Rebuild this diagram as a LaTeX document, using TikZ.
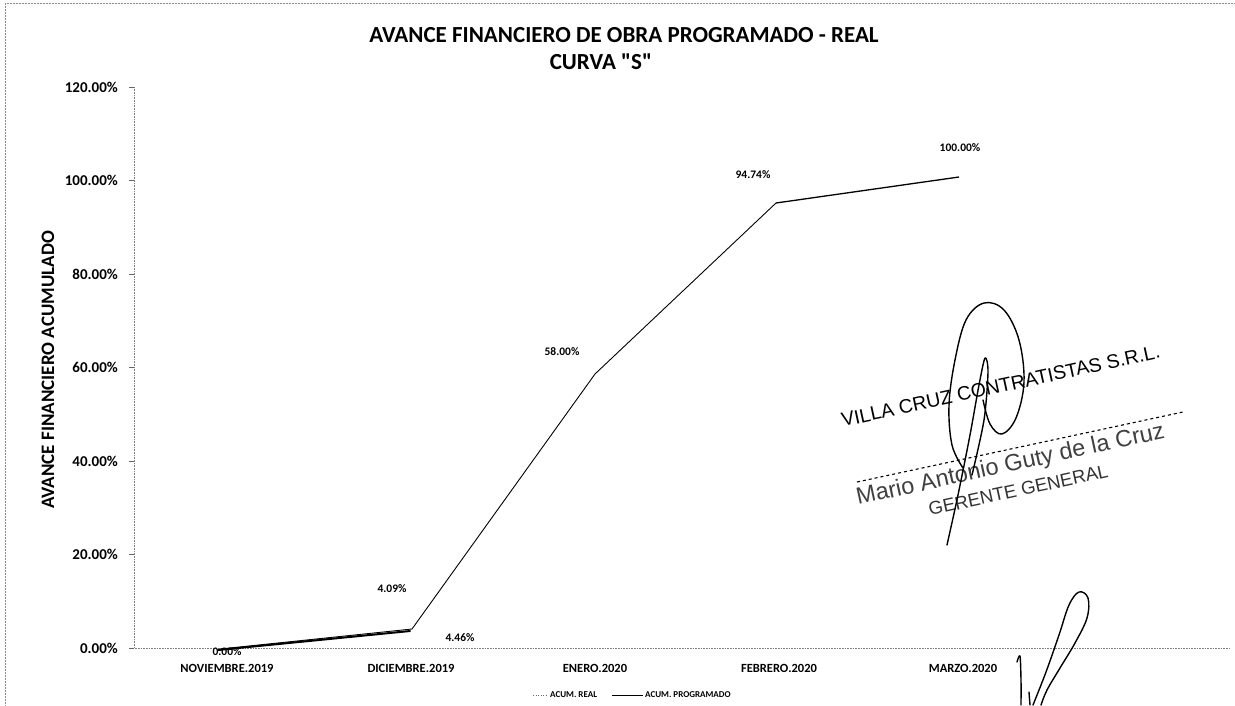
\documentclass[tikz,border=0pt]{standalone}
\usepackage{fontspec}
\setmainfont{Carlito}
\newfontfamily\plainfont{Carlito}
\newfontfamily\stampfont{Liberation Sans}
\begin{document}
\begin{tikzpicture}[x=1pt,y=-1pt,
  frameline/.style={black!45, densely dotted, line width=0.5pt},
  axisline/.style={black!50, densely dotted, line width=0.6pt},
  ticklab/.style={font=\fontsize{15}{15}\selectfont\bfseries, anchor=east, inner sep=0pt},
  catlab/.style={font=\fontsize{12.5}{12.5}\selectfont\bfseries, inner sep=0pt},
  datalab/.style={font=\fontsize{11.5}{11.5}\selectfont\bfseries, inner sep=0pt},
  titlelab/.style={font=\plainfont\fontsize{23}{23}\selectfont\bfseries, inner sep=0pt},
  leglab/.style={font=\fontsize{9}{9}\selectfont\bfseries, anchor=west, inner sep=0pt},
  progline/.style={black, line width=0.9pt, line join=round},
  realline/.style={black, line width=2pt, line cap=round},
  stamptext/.style={inner sep=0pt, anchor=base west, rotate=12.3},
  signstroke/.style={black, line width=1.4pt, line cap=round, line join=round}
]
\useasboundingbox (0,0) rectangle (1235,705);
% frame of the scanned chart
\coordinate (ftl) at (5,3);
\coordinate (fbl) at (5,705);
\coordinate (ftr) at (1235,3);
\draw[frameline] (fbl) -- (ftl) -- (ftr);

% titles
\node[titlelab] (title1) at (624,35) {AVANCE FINANCIERO DE OBRA PROGRAMADO - REAL};
\node[titlelab] (title2) at (601,62) {CURVA "S"};

% axes
\coordinate (ytop) at (134,87);
\coordinate (orig) at (134,648);
\coordinate (xend) at (1230,648);
\draw[axisline] (ytop) -- (orig) -- (xend);
\foreach \k/\lab in {0/0.00\%,1/20.00\%,2/40.00\%,3/60.00\%,4/80.00\%,5/100.00\%,6/120.00\%}{
  \coordinate (tk\k) at (134,648-93.5*\k);
  \coordinate (tm\k) at (129,648-93.5*\k);
  \draw[black!60, line width=0.6pt] (tm\k) -- (tk\k);
  \node[ticklab] (tl\k) at (118,648-93.5*\k) {\lab};
}
\node[font=\fontsize{19}{19}\selectfont\bfseries, rotate=90, inner sep=0pt] (ytitle) at (48,370) {AVANCE FINANCIERO ACUMULADO};

% category labels
\node[catlab] (c1) at (227,668) {NOVIEMBRE.2019};
\node[catlab] (c2) at (411,668) {DICIEMBRE.2019};
\node[catlab] (c3) at (595,668) {ENERO.2020};
\node[catlab] (c4) at (779,668) {FEBRERO.2020};
\node[catlab] (c5) at (963,668) {MARZO.2020};

% data points
\coordinate (p1) at (220,649);
\coordinate (p2) at (412,629);
\coordinate (p3) at (595,374);
\coordinate (p4) at (776,203);
\coordinate (p5) at (959,177);
\coordinate (r1) at (218,650);
\coordinate (r2) at (410,631);
\draw[realline] (r1) -- (r2);
\draw[progline] (p1) -- (p2) -- (p3) -- (p4);
\draw[progline, line width=1.3pt] (p4) -- (p5);

% data labels
\node[datalab] (d0) at (227,652) {0.00\%};
\node[datalab] (d1) at (392,589) {4.09\%};
\node[datalab] (d2) at (460,638) {4.46\%};
\node[datalab] (d3) at (562,352) {58.00\%};
\node[datalab] (d4) at (753,175) {94.74\%};
\node[datalab] (d5) at (960,148) {100.00\%};

% legend
\coordinate (lr1) at (533,695);
\coordinate (lr2) at (547,695);
\draw[black!60, dotted, line width=0.6pt] (lr1) -- (lr2);
\node[leglab] (lg1) at (550,695) {ACUM. REAL};
\coordinate (lp1) at (612,695);
\coordinate (lp2) at (643,695);
\draw[black, line width=0.8pt] (lp1) -- (lp2);
\node[leglab] (lg2) at (645,695) {ACUM. PROGRAMADO};

% stamp
\node[stamptext, font=\stampfont\fontsize{19.5}{19.5}\selectfont] (s1) at (843,427) {VILLA CRUZ CONTRATISTAS S.R.L.};
\coordinate (dl1) at (857,482);
\coordinate (dl2) at (1183,412);
\draw[black, dashed, line width=1.1pt] (dl1) -- (dl2);
\node[stamptext, text=black!75, font=\stampfont\fontsize{23.5}{23.5}\selectfont] (s2) at (858,505) {Mario Antonio Guty de la Cruz};
\node[stamptext, text=black!80, font=\stampfont\fontsize{18.5}{18.5}\selectfont] (s3) at (930,516) {GERENTE GENERAL};

% signature 1
\draw[signstroke] plot[smooth, tension=0.6] coordinates {(963,468) (952,445) (949,405) (955,360) (966,320) (984,303) (1004,310) (1019,340) (1024,382) (1016,418) (1002,434) (990,424) (983,400)};
\draw[signstroke] plot[smooth, tension=0.5] coordinates {(947,545) (958,495) (970,435) (979,385) (985,358) (988,372) (984,420) (972,475)};

% signature 2
\draw[signstroke] plot[smooth, tension=0.6] coordinates {(1033,705) (1046,672) (1059,635) (1069,605) (1079,592) (1088,598) (1087,618) (1075,643) (1060,668) (1047,690) (1041,705)};
\draw[signstroke] plot[smooth, tension=0.5] coordinates {(1017,662) (1020,656) (1021,680) (1021,705)};
\draw[signstroke] (1029,692) -- (1030,705);
\end{tikzpicture}
\end{document}
